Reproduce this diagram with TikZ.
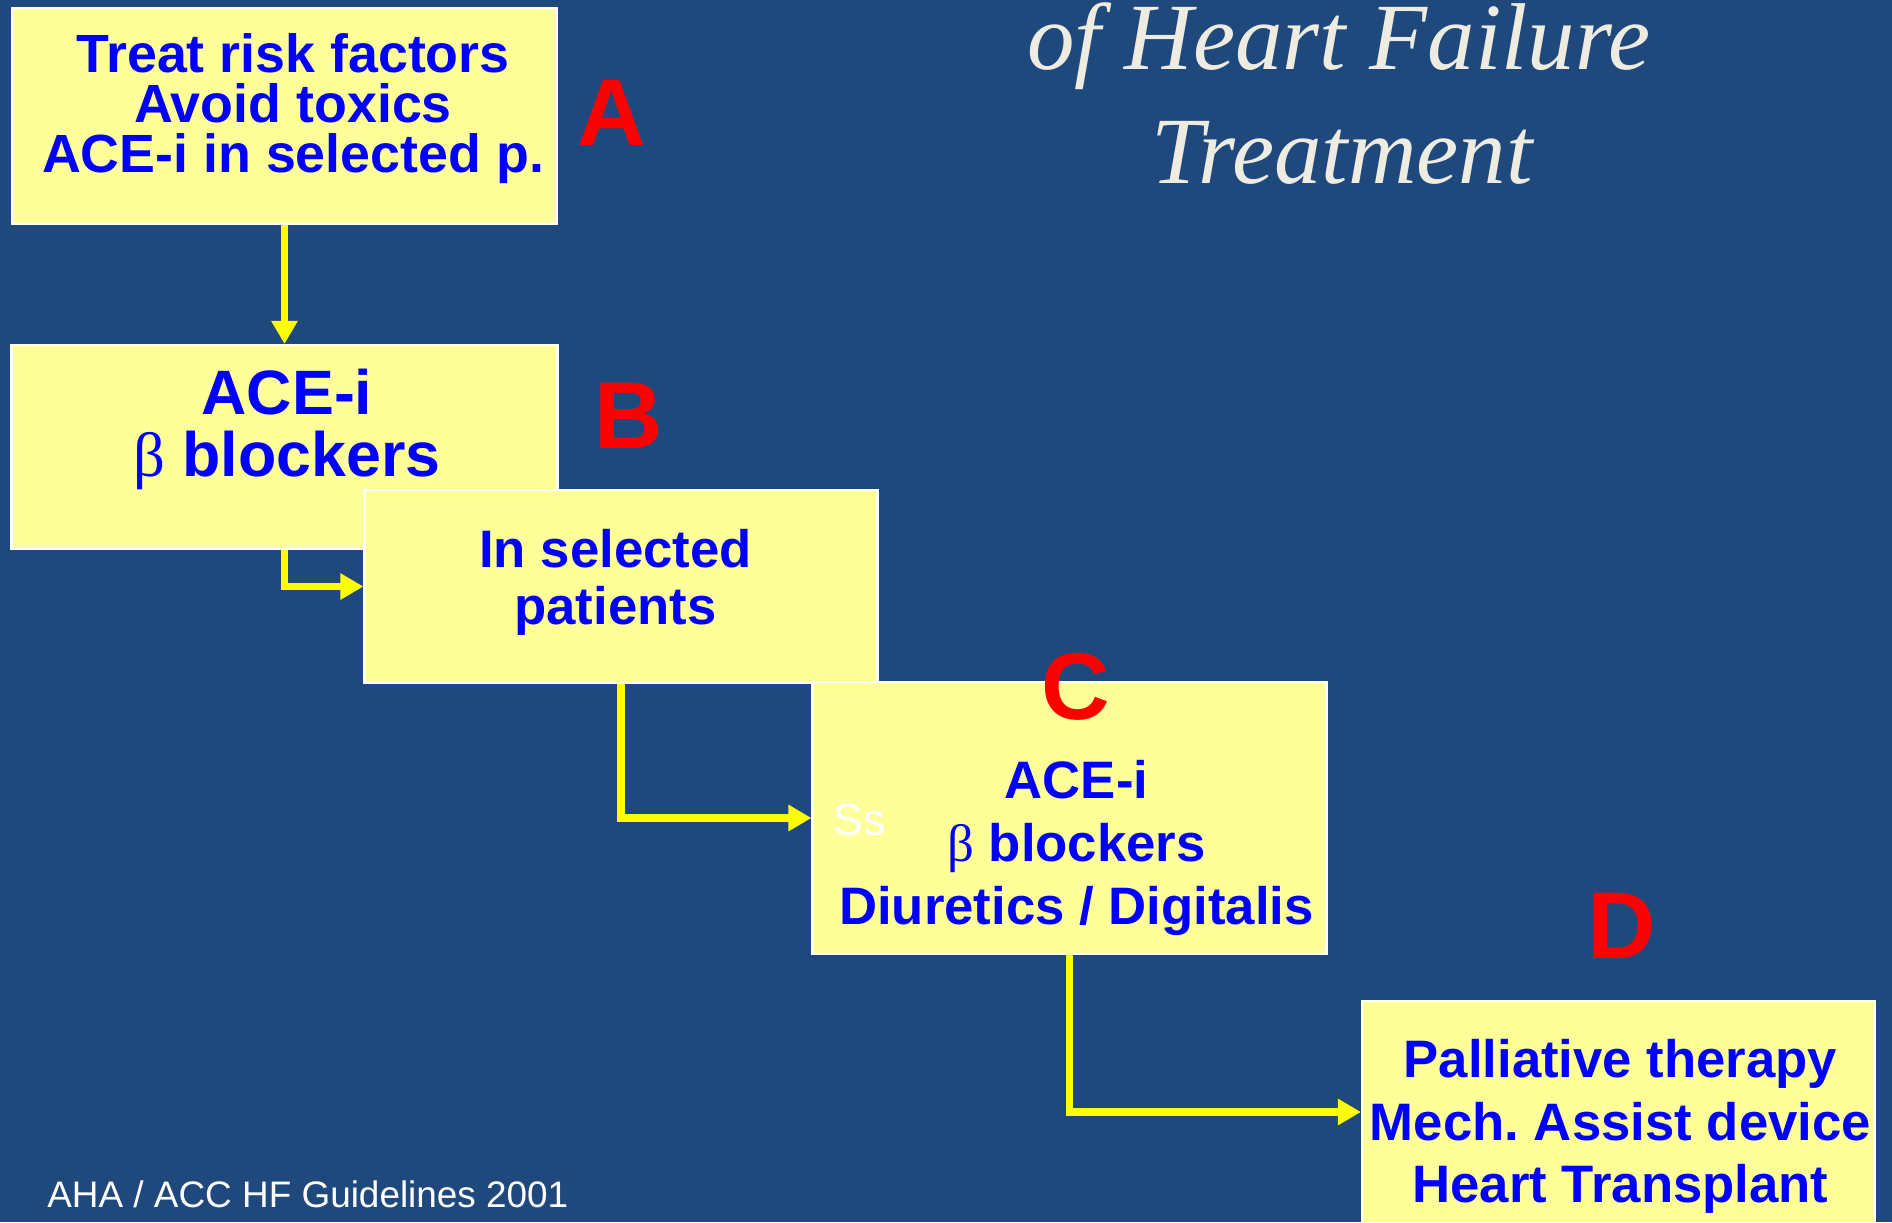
\documentclass[tikz,border=0pt]{standalone}
\usepackage{fontspec}
\setmainfont{Liberation Sans}
\newfontfamily\serifit{Liberation Serif}
\usetikzlibrary{calc,arrows.meta}
\frenchspacing
\definecolor{slideblue}{HTML}{1F497D}
\definecolor{boxyellow}{HTML}{FFFF99}
\definecolor{txtblue}{HTML}{0000FF}
\definecolor{lblred}{HTML}{FF0000}
\definecolor{arrowyellow}{HTML}{FFFF00}
\definecolor{titlecream}{HTML}{EEECE1}
\tikzset{
    block/.style = {draw=white, line width=1.2pt, fill=boxyellow, rectangle},
    blocktext/.style = {text=txtblue, align=center, inner sep=0pt},
    stagelabel/.style = {text=lblred, anchor=base, inner sep=0pt,
        font=\fontsize{54}{54}\selectfont\bfseries},
    arrow/.style = {draw=arrowyellow, line width=4.2pt,
        -{Triangle[length=0.46cm,width=0.5cm]}},
    titletext/.style = {text=titlecream, anchor=base, inner sep=0pt,
        font=\serifit\itshape\fontsize{54}{54}\selectfont}
}
\newcommand{\betag}{{\serifit\mdseries β}}

\begin{document}
\begin{tikzpicture}
    \useasboundingbox (0,0) rectangle (37.84,-24.44);
    \clip (0,0) rectangle (37.84,-24.44);
    \fill[slideblue] (0,0) rectangle (37.84,-24.44);
    % title
    \node [titletext] (titleTop) at (26.78,-1.38) {of Heart Failure};
    \node [titletext] (titleBot) at (26.84,-3.66) {Treatment};
    % stages
    \node [block, minimum width=10.9cm, minimum height=4.32cm] (stageA) at (5.69,-2.32) {};
    \node [block, below of=stageA, node distance=6.62cm, minimum width=10.92cm, minimum height=4.08cm] (stageB) {};
    \node [block, minimum width=10.26cm, minimum height=3.86cm] (selected) at ($(stageB)+(6.73,-2.79)$) {};
    \node [block, minimum width=10.28cm, minimum height=5.44cm] (stageC) at ($(selected)+(8.97,-4.63)$) {};
    \node [block, minimum width=10.26cm, minimum height=4.44cm] (stageD) at ($(stageC)+(10.98,-5.88)$) {};
    \node [blocktext, font=\fontsize{30.6}{28.6}\selectfont\bfseries] (textA) at ($(stageA)+(0.17,0.15)$)
        {Treat risk factors\\Avoid toxics\\ACE-i in selected p.};
    \node [blocktext, font=\fontsize{35.7}{35.1}\selectfont\bfseries] (textB) at ($(stageB)+(0.05,0.35)$)
        {ACE-i\\\betag{} blockers};
    \node [blocktext, font=\fontsize{30}{32.3}\selectfont\bfseries] (textSel) at ($(selected)+(-0.11,0.08)$)
        {In selected\\patients};
    \node [blocktext, font=\fontsize{30}{36}\selectfont\bfseries] (textC) at ($(stageC)+(0.14,-0.6)$)
        {ACE-i\\\betag{} blockers\\Diuretics / Digitalis};
    \node [blocktext, font=\fontsize{30}{35.7}\selectfont\bfseries] (textD) at ($(stageD)+(0.04,-0.29)$)
        {Palliative therapy\\Mech. Assist device\\Heart Transplant};
    \node [text=white, anchor=base, inner sep=0pt, font=\fontsize{25.5}{25.5}\selectfont] (ss) at ($(stageC.west)+(0.96,-0.34)$) {Ss};
    % stage letters
    \node [stagelabel] (lblA) at ($(stageA.east)+(1.07,-0.58)$) {A};
    \node [stagelabel] (lblB) at ($(stageB.east)+(1.40,-0.02)$) {B};
    \node [stagelabel] (lblC) at ($(stageC.north)+(0.13,-0.78)$) {C};
    \node [stagelabel] (lblD) at ($(stageD.north)+(0.06,0.82)$) {D};
    % connectors
    \draw [arrow] (stageA) -- (stageB);
    \draw [arrow] (stageB.south) |- (selected.west);
    \draw [arrow] (selected.south) |- (stageC.west);
    \draw [arrow] (stageC.south) |- (stageD.west);
    \node [text=white, anchor=base west, inner sep=0pt, font=\fontsize{21}{21}\selectfont] (source) at (0.94,-24.14) {AHA / ACC HF Guidelines 2001};
\end{tikzpicture}
\end{document}
